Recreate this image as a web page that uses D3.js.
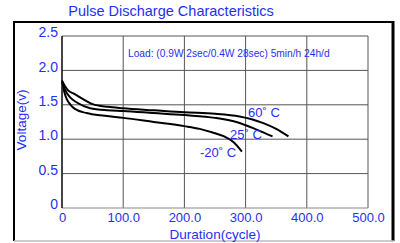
<!DOCTYPE html>
<html>
<head>
<meta charset="utf-8">
<script src="https://cdn.jsdelivr.net/npm/d3@7"></script>
<style>
  body { margin: 0; background: #fff; }
  text { font-family: "Liberation Sans", Arial, sans-serif; }
</style>
</head>
<body>
<svg id="chart" width="400" height="243"></svg>
<script>
// Data
var xTicks = [0, 100, 200, 300, 400, 500];
var yTicks = [0, 0.5, 1.0, 1.5, 2.0, 2.5];
var xTickLabels = ["0", "100.0", "200.0", "300.0", "400.0", "500.0"];
var yTickLabels = ["0", "0.5", "1.0", "1.5", "2.0", "2.5"];

var hot = [[0,1.85],[5,1.77],[10,1.71],[20,1.66],[35,1.58],[50,1.51],[75,1.47],[100,1.45],
  [150,1.42],[200,1.39],[250,1.37],[290,1.33],[310,1.29],[330,1.23],[350,1.15],[370,1.04]];
var room = [[0,1.85],[5,1.72],[13,1.61],[25,1.53],[46,1.45],[75,1.42],[100,1.41],[150,1.38],
  [200,1.35],[250,1.31],[285,1.25],[318,1.14],[344,1.04]];
var cold = [[0,1.85],[4,1.68],[8,1.58],[14,1.50],[21,1.44],[40,1.38],[70,1.34],[100,1.31],
  [150,1.25],[200,1.19],[225,1.15],[245,1.10],[265,1.04],[280,0.96],[294,0.82]];

var seriesNames = ["60\u02DA C", "25\u02DA C", "-20\u02DA C"];
var series = [hot, room, cold];

var blue = "#1f2ff5";

var svg = d3.select("#chart");

// outer frame
svg.append("line").attr("x1", 14).attr("y1", 22).attr("x2", 393).attr("y2", 22)
  .attr("stroke", "#000").attr("stroke-width", 2);
svg.append("line").attr("x1", 14).attr("y1", 21).attr("x2", 14).attr("y2", 241)
  .attr("stroke", "#000").attr("stroke-width", 2);
svg.append("line").attr("x1", 393).attr("y1", 21).attr("x2", 393).attr("y2", 241)
  .attr("stroke", "#000").attr("stroke-width", 3);
svg.append("line").attr("x1", 14).attr("y1", 241).attr("x2", 394).attr("y2", 241)
  .attr("stroke", "#bbb").attr("stroke-width", 1.5);

// title
svg.append("text").attr("x", 171).attr("y", 16)
  .attr("text-anchor", "middle").attr("font-size", 14.5).attr("fill", blue)
  .text("Pulse Discharge Characteristics");

var x = d3.scaleLinear().domain([0, 500]).range([62, 368]);
var y = d3.scaleLinear().domain([0, 2.5]).range([208, 36]);

// grid
svg.append("g").selectAll("line").data(xTicks).join("line")
  .attr("x1", d => x(d)).attr("x2", d => x(d))
  .attr("y1", y(2.5)).attr("y2", y(0))
  .attr("stroke", "#555").attr("stroke-width", 1);
svg.append("g").selectAll("line").data(yTicks).join("line")
  .attr("x1", x(0)).attr("x2", x(500))
  .attr("y1", d => y(d)).attr("y2", d => y(d))
  .attr("stroke", d => d === 0 ? "#888" : "#555").attr("stroke-width", 1);
svg.append("line").attr("x1", x(0)).attr("x2", x(0)).attr("y1", y(2.5)).attr("y2", y(0))
  .attr("stroke", "#000").attr("stroke-width", 1.2);

// axes
var xAxis = d3.axisBottom(x).tickValues(xTicks).tickSize(0).tickPadding(5)
  .tickFormat((d, i) => xTickLabels[i]);
var gx = svg.append("g").attr("transform", "translate(0," + y(0) + ")").call(xAxis);
gx.select(".domain").remove();
gx.selectAll("text").attr("fill", blue).attr("font-size", 13);

var yAxis = d3.axisLeft(y).tickValues(yTicks).tickSize(0).tickPadding(4)
  .tickFormat((d, i) => yTickLabels[i]);
var gy = svg.append("g").attr("transform", "translate(" + x(0) + ",0)").call(yAxis);
gy.select(".domain").remove();
gy.selectAll("text").attr("fill", blue).attr("font-size", 14).attr("dy", "0.05em");

svg.append("text").attr("x", 215).attr("y", 239)
  .attr("text-anchor", "middle").attr("font-size", 13.5).attr("fill", blue)
  .text("Duration(cycle)");
svg.append("text").attr("transform", "translate(26,120) rotate(-90)")
  .attr("text-anchor", "middle").attr("font-size", 13.5).attr("fill", blue)
  .text("Voltage(v)");

svg.append("text").attr("x", 128).attr("y", 57)
  .attr("font-size", 10.2).attr("fill", blue)
  .text("Load: (0.9W 2sec/0.4W 28sec) 5min/h 24h/d");

// curves
var line = d3.line().x(d => x(d[0])).y(d => y(d[1])).curve(d3.curveMonotoneX);
svg.append("g").selectAll("path").data(series).join("path")
  .attr("d", line).attr("fill", "none")
  .attr("stroke", "#000").attr("stroke-width", 2);

// curve labels
var labelPos = [[248, 117], [230, 139], [200, 157]];
svg.append("g").selectAll("text").data(seriesNames).join("text")
  .attr("x", (d, i) => labelPos[i][0]).attr("y", (d, i) => labelPos[i][1])
  .attr("font-size", 13).attr("fill", blue)
  .text(d => d);
</script>
</body>
</html>
